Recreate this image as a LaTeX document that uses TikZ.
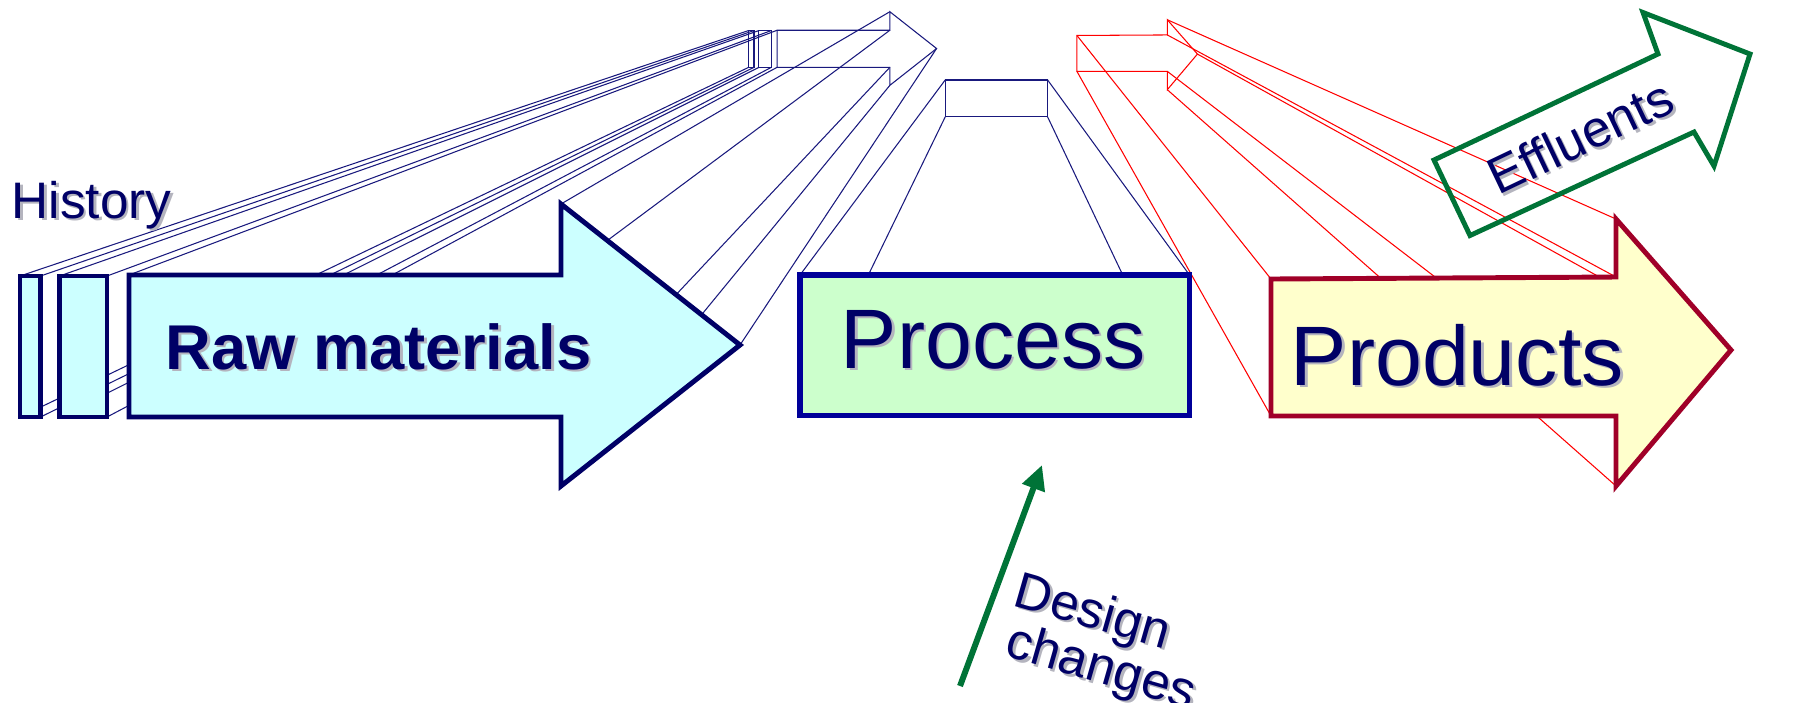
\documentclass[tikz,border=0pt]{standalone}
\usepackage{fontspec}
\setmainfont{Liberation Sans}
\usepackage{tikz}
\usetikzlibrary{calc,arrows.meta}

\definecolor{navy}{RGB}{0,0,102}
\definecolor{wireblue}{RGB}{25,25,125}
\definecolor{wirered}{RGB}{255,0,0}
\definecolor{rawfill}{RGB}{204,255,255}
\definecolor{procfill}{RGB}{204,255,204}
\definecolor{procline}{RGB}{0,0,153}
\definecolor{prodfill}{RGB}{255,255,204}
\definecolor{prodline}{RGB}{160,0,40}
\definecolor{effgreen}{RGB}{0,115,55}
\definecolor{shadowgray}{RGB}{180,180,190}

\begin{document}
\begin{tikzpicture}[x=0.01cm,y=-0.01cm,
  wire/.style={line width=0.3pt},
  solid/.style={line width=1.4pt,line join=miter},
  smalltxt/.style={font=\fontsize{14.6pt}{17pt}\selectfont},
  bigtxt/.style={font=\fontsize{24pt}{28pt}\selectfont},
  txt/.style={inner sep=0pt,text=navy},
  txtshadow/.style={inner sep=0pt,text=shadowgray,xshift=0.025cm,yshift=-0.025cm}]
\useasboundingbox (0,0) rectangle (1809,702);

\coordinate (vraw) at (1006,-56.2);
\coordinate (vproc) at (997,10.4);
\coordinate (vprod) at (1008,-51);

% history and raw materials running back to the top
\foreach \x/\y in {20/276,40.5/276,40.5/417,20/417,59.5/276,107/276,107/417,59.5/417,
    129/275,561/275,561/204,740/345,561/486,561/417,129/417}
  \draw[wire,wireblue] (\x,\y) -- ($(vraw)!0.261!(\x,\y)$);
\begin{scope}[wire,wireblue,scale around={0.261:(1006,-56.2)}]
  \draw (20,276) rectangle (40.5,417);
  \draw (59.5,276) rectangle (107,417);
  \draw (129,275) -- (561,275) -- (561,204) -- (740,345) -- (561,486) -- (561,417) -- (129,417) -- cycle;
\end{scope}

% process
\foreach \x/\y in {800/275,1189.5/275,1189.5/415.5,800/415.5}
  \draw[wire,wireblue] (\x,\y) -- ($(vproc)!0.263!(\x,\y)$);
\draw[wire,wireblue,scale around={0.263:(997,10.4)}] (800,275) rectangle (1189.5,415.5);

% products
\foreach \x/\y in {1271/279,1616/277,1616/219,1731/350,1616/486,1616/416,1271/416}
  \draw[wire,wirered] (\x,\y) -- ($(vprod)!0.262!(\x,\y)$);
\draw[wire,wirered,scale around={0.262:(1008,-51)}]
  (1271,279) -- (1616,277) -- (1616,219) -- (1731,350) -- (1616,486) -- (1616,416) -- (1271,416) -- cycle;

% front faces
\filldraw[solid,draw=navy,fill=rawfill] (20,276) rectangle (40.5,417);
\filldraw[solid,draw=navy,fill=rawfill] (59.5,276) rectangle (107,417);
\filldraw[solid,draw=navy,fill=rawfill] (129,275) -- (561,275) -- (561,204) -- (740,345)
  -- (561,486) -- (561,417) -- (129,417) -- cycle;
\filldraw[line width=1.6pt,draw=procline,fill=procfill] (800,275) rectangle (1189.5,415.5);
\filldraw[solid,draw=prodline,fill=prodfill] (1271,279) -- (1616,277) -- (1616,219) -- (1731,350)
  -- (1616,486) -- (1616,416) -- (1271,416) -- cycle;
\draw[solid,effgreen] (1470,235.5) -- (1434,160) -- (1658,54) -- (1643,12.5) -- (1750,54)
  -- (1714,166) -- (1694,132) -- cycle;

\coordinate (dctail) at (960,686);
\coordinate (dchead) at (1042,465);
\draw[line width=1.7pt,effgreen,-{Triangle[length=7pt,width=6.5pt]}] (dctail) -- (dchead);

% labels
\node[txtshadow,smalltxt,anchor=base west] (history-sh) at (11,218) {History};
\node[txt,smalltxt,anchor=base west] (history) at (11,218) {History};
\node[txtshadow,anchor=base west,font=\fontsize{18pt}{21pt}\selectfont\bfseries] (raw-sh) at (165,369) {Raw materials};
\node[txt,anchor=base west,font=\fontsize{18pt}{21pt}\selectfont\bfseries] (raw) at (165,369) {Raw materials};
\node[txtshadow,bigtxt,anchor=base west] (process-sh) at (840,368) {Process};
\node[txt,bigtxt,anchor=base west] (process) at (840,368) {Process};
\node[txtshadow,bigtxt,anchor=base west] (products-sh) at (1290,385) {Products};
\node[txt,bigtxt,anchor=base west] (products) at (1290,385) {Products};
\node[txtshadow,smalltxt,anchor=base,rotate=25.5] (effluents-sh) at (1588,153) {Effluents};
\node[txt,smalltxt,anchor=base,rotate=25.5] (effluents) at (1588,153) {Effluents};
\node[txtshadow,smalltxt,anchor=base west,rotate=-16] (design-sh) at (1011,605) {Design};
\node[txt,smalltxt,anchor=base west,rotate=-16] (design) at (1011,605) {Design};
\node[txtshadow,smalltxt,anchor=base west,rotate=-16] (changes-sh) at (1003,655.5) {changes};
\node[txt,smalltxt,anchor=base west,rotate=-16] (changes) at (1003,655.5) {changes};
\end{tikzpicture}
\end{document}
